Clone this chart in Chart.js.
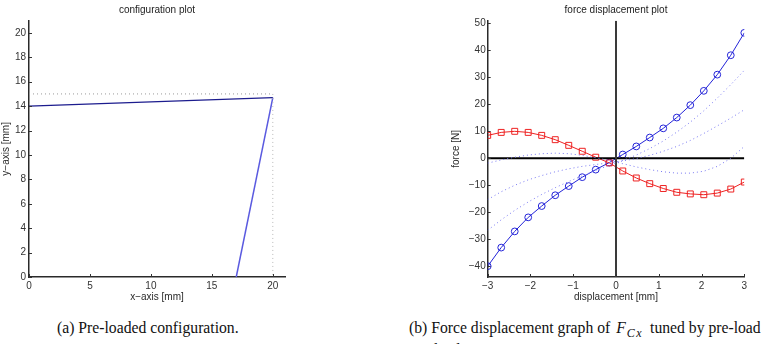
<!DOCTYPE html>
<html>
<head>
<meta charset="utf-8">
<script src="https://cdn.jsdelivr.net/npm/chart.js@4.4.0/dist/chart.umd.min.js"></script>
<style>
  body { margin: 0; background: #fff; width: 767px; height: 344px; overflow: hidden; position: relative; }
  canvas { position: absolute; top: 0; }
  #cfg { left: 0; }
  #force { left: 440px; }
  .cap { position: absolute; font-family: "Liberation Serif", "Times New Roman", serif; font-size: 15.7px; line-height: 18px; white-space: nowrap; color: #111; }
  .math { margin: 0 3px 0 2px; }
  .math sub { font-size: 12px; letter-spacing: 1.5px; margin-left: 1px; }
</style>
</head>
<body>
<canvas id="cfg" width="300" height="305"></canvas>
<canvas id="force" width="327" height="305"></canvas>
<div class="cap" style="left:57px; top:319px;">(a) Pre-loaded configuration.</div>
<div class="cap" style="left:409px; top:319px;">(b) Force displacement graph of <span class="math"><i>F</i><sub><i>Cx</i></sub></span> tuned by pre-load</div>
<div class="cap" style="left:430px; top:341px;">displacement.</div>
<script>
// configuration plot data (mm)
const linkA = [{x: 0, y: 14}, {x: 20, y: 14.7}];
const linkB = [{x: 20, y: 14.7}, {x: 17, y: 0}];
const guideH = [{x: 0, y: 15}, {x: 20, y: 15}];
const guideV = [{x: 20, y: 15}, {x: 20, y: 0}];
const cfgXTicks = [0, 5, 10, 15, 20];
const cfgYTicks = [0, 2, 4, 6, 8, 10, 12, 14, 16, 18, 20];

// force displacement data
const disp = [-3, -2.684, -2.368, -2.053, -1.737, -1.421, -1.105, -0.789, -0.474, -0.158,
              0.158, 0.474, 0.789, 1.105, 1.421, 1.737, 2.053, 2.368, 2.684, 3];
const forceBlue = [-40, -33.1, -27.1, -21.9, -17.7, -13.7, -10.3, -7.0, -4.2, -1.6,
                   1.4, 4.4, 7.7, 11.1, 15.1, 19.7, 25.0, 31.0, 38.2, 46.5];
const forceRed = [8.5, 9.6, 10.0, 9.6, 8.5, 6.9, 4.8, 2.6, 0.4, -1.7,
                  -4.7, -7.3, -9.4, -11.2, -12.6, -13.2, -13.5, -12.9, -11.4, -8.8];
const forceDot1 = [-1.8, -0.6, 0.4, 1.2, 1.7, 1.9, 1.7, 1.1, 0.2, -0.8,
                   -2.0, -3.2, -4.2, -5.0, -5.5, -5.5, -4.8, -3.0, 0.0, 4.4];
const forceDot2 = [-15.3, -12.4, -10.0, -8.0, -6.4, -5.0, -3.9, -3.0, -2.3, -1.7,
                   -1.0, -0.1, 1.1, 2.6, 4.4, 6.6, 9.2, 12.0, 14.9, 18.0];
const forceDot3 = [-26.7, -22.8, -19.3, -16.2, -13.4, -10.9, -8.6, -6.5, -4.5, -2.6,
                   -0.8, 1.2, 3.6, 6.4, 9.7, 13.4, 17.6, 22.3, 27.3, 32.6];
const zeroH = [{x: -3, y: 0}, {x: 3, y: 0}];
const zeroV = [{x: 0, y: -44}, {x: 0, y: 51}];
const fXTicks = [-3, -2, -1, 0, 1, 2, 3];
const fYTicks = [-40, -30, -20, -10, 0, 10, 20, 30, 40, 50];

const FONT = {family: 'Liberation Sans, Arial, sans-serif', size: 10};
const pts = (xs, ys) => xs.map((x, i) => ({x: x, y: ys[i]}));

//inward tick marks like matlab
const inTicks = {
	id: 'inTicks',
	afterDraw: (chart) => {
		const ctx = chart.ctx;
		const xs = chart.scales.x, ys = chart.scales.y;
		ctx.save();
		ctx.strokeStyle = '#333';
		ctx.lineWidth = 1;
		ctx.beginPath();
		xs.ticks.forEach(t => {
			const px = Math.round(xs.getPixelForValue(t.value)) + 0.5;
			ctx.moveTo(px, ys.bottom);
			ctx.lineTo(px, ys.bottom - 3);
		});
		ys.ticks.forEach(t => {
			const py = Math.round(ys.getPixelForValue(t.value)) + 0.5;
			ctx.moveTo(xs.left, py);
			ctx.lineTo(xs.left + 3, py);
		});
		ctx.stroke();
		ctx.restore();
	}
};

function axis(min, max, tickList, title, titlePad, fixSize, horiz, tickPad) {
	return {
		type: 'linear',
		min: min,
		max: max,
		afterBuildTicks: (s) => { s.ticks = tickList.map(v => ({value: v})); },
		afterFit: (s) => { if (horiz) s.height = fixSize; else s.width = fixSize; },
		grid: {drawOnChartArea: false, drawTicks: false},
		border: {display: true, color: '#2a2a2a', width: 1.5},
		ticks: {font: FONT, color: '#333', padding: tickPad, callback: (v) => String(v).replace('-', '\u2212')},
		title: {display: true, text: title, font: FONT, color: '#2a2a2a', padding: titlePad}
	};
}

function baseOptions(titleText, padRight) {
	return {
		responsive: false,
		animation: false,
		devicePixelRatio: 1,
		layout: {padding: {left: 0, right: padRight, top: 0, bottom: 0}},
		plugins: {
			legend: {display: false},
			tooltip: {enabled: false},
			title: {display: true, text: titleText, font: {family: FONT.family, size: 10, weight: 'normal'},
				color: '#222', fullSize: false, padding: {top: 4.5, bottom: 4.2}}
		},
		elements: {line: {tension: 0}}
	};
}

// configuration plot
const cfgOpts = baseOptions('configuration plot', 15);
cfgOpts.scales = {
	x: axis(0, 21, cfgXTicks, 'x\u2212axis [mm]', {top: 0, bottom: 2}, 28, true, 3),
	y: axis(0, 21, cfgYTicks, 'y\u2212axis [mm]', {top: 0, bottom: 0}, 29, false, 3)
};
new Chart(document.getElementById('cfg').getContext('2d'), {
	type: 'scatter',
	data: {
		datasets: [
			{data: guideH, showLine: true, borderColor: '#9a9a9a', borderWidth: 1, borderDash: [1, 3], pointRadius: 0},
			{data: guideV, showLine: true, borderColor: '#b8b8b8', borderWidth: 1, borderDash: [1, 3], pointRadius: 0},
			{data: linkA, showLine: true, borderColor: '#1c1c8e', borderWidth: 1.3, pointRadius: 0},
			{data: linkB, showLine: true, borderColor: '#5a5ae0', borderWidth: 1.5, pointRadius: 0}
		]
	},
	options: cfgOpts,
	plugins: [inTicks]
});

// force displacement plot
const fOpts = baseOptions('force displacement plot', 22.7);
fOpts.scales = {
	x: axis(-3, 3, fXTicks, 'displacement [mm]', {top: 0, bottom: 2}, 28, true, 3),
	y: axis(-44, 51, fYTicks, 'force [N]', {top: 10.7, bottom: 0}, 47.7, false, 2)
};
const dotted = (ys) => ({data: pts(disp, ys), showLine: true, borderColor: '#7a7af2', borderWidth: 1, borderDash: [1, 3], pointRadius: 0});
new Chart(document.getElementById('force').getContext('2d'), {
	type: 'scatter',
	data: {
		datasets: [
			dotted(forceDot1),
			dotted(forceDot2),
			dotted(forceDot3),
			{data: zeroV, showLine: true, borderColor: '#3a3a3a', borderWidth: 2, pointRadius: 0},
			{data: zeroH, showLine: true, borderColor: '#000', borderWidth: 2, pointRadius: 0},
			{data: pts(disp, forceRed), showLine: true, borderColor: '#ee2222', borderWidth: 1, pointStyle: 'rect',
				pointRadius: 4.2, pointBorderWidth: 1, pointBackgroundColor: 'rgba(0,0,0,0)', pointBorderColor: '#ee2222'},
			{data: pts(disp, forceBlue), showLine: true, borderColor: '#2323d8', borderWidth: 1, pointStyle: 'circle',
				pointRadius: 3.4, pointBorderWidth: 1, pointBackgroundColor: 'rgba(0,0,0,0)', pointBorderColor: '#2323d8'}
		]
	},
	options: fOpts,
	plugins: [inTicks]
});
</script>
</body>
</html>
